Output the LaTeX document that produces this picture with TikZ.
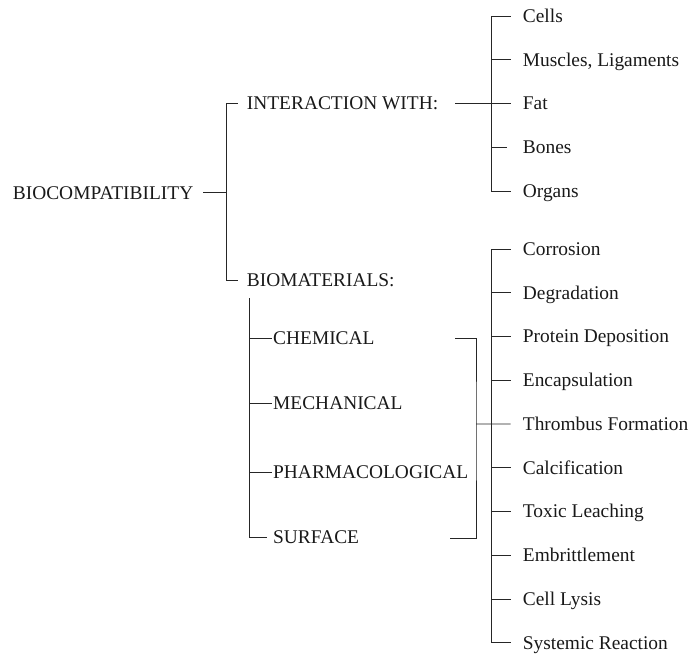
\documentclass[tikz,border=0pt]{standalone}
\usepackage{fontspec}
\setmainfont{Liberation Serif}
\begin{document}
\begin{tikzpicture}[x=1pt,y=-1pt,
  lbl/.style={anchor=west,inner sep=0pt,text height=12.8pt,text depth=0pt,font=\fontsize{19.4}{23}\selectfont,text=black!90},
  ln/.style={line width=0.85pt,draw=black!85}]
\useasboundingbox (0,0) rectangle (692,655);
% main labels
\node[lbl] (bio)  at (12.7,192.7) {BIOCOMPATIBILITY};
\node[lbl] (int)  at (246.7,103.5) {INTERACTION WITH:};
\node[lbl] (biom) at (246.7,280) {BIOMATERIALS:};
\node[lbl] (chem) at (273,338) {CHEMICAL};
\node[lbl] (mech) at (273,403) {MECHANICAL};
\node[lbl] (pharm) at (273,472) {PHARMACOLOGICAL};
\node[lbl] (surf) at (273,537.5) {SURFACE};
% top list
\foreach \t [count=\i from 0] in {Cells,{Muscles, Ligaments},Fat,Bones,Organs}
  \node[lbl] (t\i) at (522.7,{16+43.8*\i}) {\t};
% bottom list
\foreach \t [count=\i from 0] in {Corrosion,Degradation,Protein Deposition,Encapsulation,Thrombus Formation,Calcification,Toxic Leaching,Embrittlement,Cell Lysis,Systemic Reaction}
  \node[lbl] (b\i) at (522.7,{249+43.74*\i}) {\t};
% junction coordinates
\coordinate (ja) at (226.7,192.7);
\coordinate (jt) at (491.7,103.5);
\coordinate (jb) at (249.3,298);
\coordinate (bc) at (455,338);
\coordinate (bs) at (450,538);
\coordinate (jr) at (476,423.96);
\coordinate (jv) at (491.7,249);
% root
\draw[ln] ([xshift=10pt]bio.east) -- (ja);
\draw[ln] ([xshift=-9pt]int.west) -| (ja) |- ([xshift=-9pt]biom.west);
% interaction
\draw[ln] ([xshift=17pt]int.east) -- (jt);
\draw[ln] ([xshift=-12pt]t0.west) -| (jt |- t4.west) -- ([xshift=-12pt]t4.west);
\foreach \i in {1,2}
  \draw[ln] (jt |- t\i.west) -- ([xshift=-12pt]t\i.west);
\draw[ln] (jt |- t3.west) -- ([xshift=-16pt]t3.west);
% biomaterials
\draw[ln] (jb) |- ([xshift=-6pt]surf.west);
\foreach \n in {chem,mech,pharm}
  \draw[ln] (jb |- \n.west) -- ([xshift=-1.5pt]\n.west);
% bracket
\draw[ln] (bc) -| (jr) |- (bs);
\draw[ln] (jr) -- ([xshift=-12pt]b4.west);
% bottom list
\draw[ln] ([xshift=-12pt]b0.west) -| (jv |- b9.west) -- ([xshift=-12pt]b9.west);
\foreach \i in {1,2,3,5,6,7,8}
  \draw[ln] (jv |- b\i.west) -- ([xshift=-12pt]b\i.west);
\end{tikzpicture}
\end{document}
